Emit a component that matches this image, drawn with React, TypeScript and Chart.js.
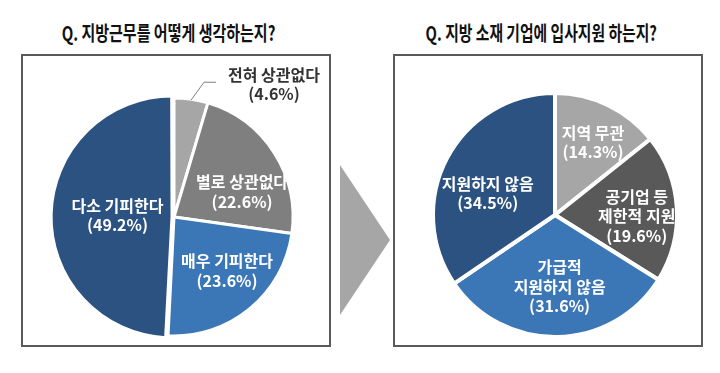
import React, { useEffect, useRef } from 'react';
import { Chart, registerables } from 'chart.js';

Chart.register(...registerables);

const leftTitle = 'Q. 지방근무를 어떻게 생각하는지?';
const rightTitle = 'Q. 지방 소재 기업에 입사지원 하는지?';

const leftCategories = [['전혀 상관없다'], ['별로 상관없다'], ['매우 기피한다'], ['다소 기피한다']];
const leftValues = [4.6, 22.6, 23.6, 49.2];

const rightCategories = [['지역 무관'], ['공기업 등', '제한적 지원'], ['가급적', '지원하지 않음'], ['지원하지 않음']];
const rightValues = [14.3, 19.6, 31.6, 34.5];

const leftColors = ['#A6A6A6', '#7F7F7F', '#3B76B6', '#2C5281'];
const rightColors = ['#A6A6A6', '#595959', '#3B76B6', '#2C5281'];

type LabelCfg = {
  factor: number[];
  nudge: number[];
  outside?: number;
};

function makeLabelPlugin(cfg: LabelCfg) {
  return {
    id: 'sliceLabels',
    afterDatasetsDraw(chart: any) {
      const ctx = chart.ctx as CanvasRenderingContext2D;
      const meta = chart.getDatasetMeta(0);
      const ds = chart.data.datasets[0];
      const cats = chart.data.labels as string[][];
      meta.data.forEach((arc: any, i: number) => {
        const { x, y, startAngle, endAngle, outerRadius } = arc.getProps(
          ['x', 'y', 'startAngle', 'endAngle', 'outerRadius'],
          true
        );
        const midRaw = (startAngle + endAngle) / 2;
        const lines = [...cats[i], `(${ds.data[i]}%)`];
        ctx.save();
        ctx.font = 'bold 16px "Noto Sans CJK KR", "Noto Sans", sans-serif';
        ctx.textAlign = 'center';
        ctx.textBaseline = 'middle';
        if (cfg.outside === i) {
          const sx = x + Math.cos(midRaw) * (outerRadius - 1);
          const sy = y + Math.sin(midRaw) * (outerRadius - 1);
          const ex = sx + 13;
          const ey = sy - 18;
          const hx = ex + 12;
          ctx.strokeStyle = '#7F7F7F';
          ctx.lineWidth = 1;
          ctx.beginPath();
          ctx.moveTo(sx, sy);
          ctx.lineTo(ex, ey);
          ctx.lineTo(hx, ey);
          ctx.stroke();
          ctx.fillStyle = '#333333';
          const tx = hx + 58;
          ctx.fillText(lines[0], tx, ey - 7);
          ctx.fillText(lines[1], tx, ey + 12);
        } else {
          const mid = midRaw + ((cfg.nudge[i] || 0) * Math.PI) / 180;
          const r = outerRadius * cfg.factor[i];
          const cx = x + Math.cos(mid) * r;
          const cy = y + Math.sin(mid) * r;
          const lh = 19.5;
          ctx.fillStyle = '#FFFFFF';
          lines.forEach((t, k) => {
            ctx.fillText(t, cx, cy + (k - (lines.length - 1) / 2) * lh);
          });
        }
        ctx.restore();
      });
    },
  };
}

type PieProps = {
  categories: string[][];
  values: number[];
  colors: string[];
  borderWidth: number;
  offsets: number[];
  radius: number;
  padding: { left: number; right: number; top: number; bottom: number };
  labelCfg: LabelCfg;
  left: number;
  top: number;
  width: number;
  height: number;
};

function PieChart(p: PieProps) {
  const ref = useRef<HTMLCanvasElement | null>(null);
  useEffect(() => {
    if (!ref.current) return;
    const chart = new Chart(ref.current, {
      type: 'pie',
      data: {
        labels: p.categories as any,
        datasets: [
          {
            data: p.values,
            backgroundColor: p.colors,
            borderColor: '#FFFFFF',
            borderWidth: p.borderWidth,
            offset: p.offsets,
            radius: p.radius,
          } as any,
        ],
      },
      options: {
        responsive: false,
        animation: false,
        events: [],
        layout: { padding: p.padding },
        plugins: {
          legend: { display: false },
          tooltip: { enabled: false },
        },
      },
      plugins: [makeLabelPlugin(p.labelCfg)],
    });
    return () => chart.destroy();
  }, []);
  return (
    <canvas
      ref={ref}
      width={p.width}
      height={p.height}
      style={{ position: 'absolute', left: p.left, top: p.top, width: p.width, height: p.height }}
    />
  );
}

const titleStyle = (cx: number): React.CSSProperties => ({
  position: 'absolute',
  left: cx - 200,
  top: 21,
  width: 400,
  textAlign: 'center',
  fontFamily: '"Noto Sans CJK KR", "Noto Sans", sans-serif',
  fontWeight: 700,
  fontSize: 20,
  lineHeight: '24px',
  color: '#111111',
  whiteSpace: 'nowrap',
});

export default function App() {
  return (
    <div
      style={{
        position: 'fixed',
        left: 0,
        top: 0,
        width: 720,
        height: 373,
        background: '#FFFFFF',
        overflow: 'hidden',
      }}
    >
      <div style={titleStyle(168)}>
        <span style={{ display: 'inline-block', transform: 'scaleX(0.75)' }}>{leftTitle}</span>
      </div>
      <div style={titleStyle(541)}>
        <span style={{ display: 'inline-block', transform: 'scaleX(0.74)' }}>{rightTitle}</span>
      </div>

      <div
        style={{
          position: 'absolute',
          left: 21,
          top: 54,
          width: 310,
          height: 293,
          border: '2px solid #5A5A5A',
          boxSizing: 'border-box',
        }}
      />
      <div
        style={{
          position: 'absolute',
          left: 393,
          top: 54,
          width: 310,
          height: 293,
          border: '2px solid #5A5A5A',
          boxSizing: 'border-box',
        }}
      />

      <svg
        width={720}
        height={373}
        style={{ position: 'absolute', left: 0, top: 0 }}
      >
        <polygon points="340,165 390,240 340,315" fill="#A6A6A6" />
      </svg>

      <PieChart
        categories={leftCategories}
        values={leftValues}
        colors={leftColors}
        borderWidth={3}
        offsets={[0, 0, 0, 8]}
        radius={119}
        padding={{ left: 0, right: 4, top: 33, bottom: 0 }}
        labelCfg={{ factor: [0, 0.61, 0.635, 0.475], nudge: [0, 12.5, -5, 0], outside: 0 }}
        left={22}
        top={55}
        width={308}
        height={291}
      />
      <PieChart
        categories={rightCategories}
        values={rightValues}
        colors={rightColors}
        borderWidth={4}
        offsets={[0, 0, 0, 0]}
        radius={122}
        padding={{ left: 14, right: 0, top: 29, bottom: 0 }}
        labelCfg={{ factor: [0.67, 0.67, 0.59, 0.58], nudge: [2, 4, -2.6, -10] }}
        left={394}
        top={55}
        width={308}
        height={291}
      />
    </div>
  );
}
